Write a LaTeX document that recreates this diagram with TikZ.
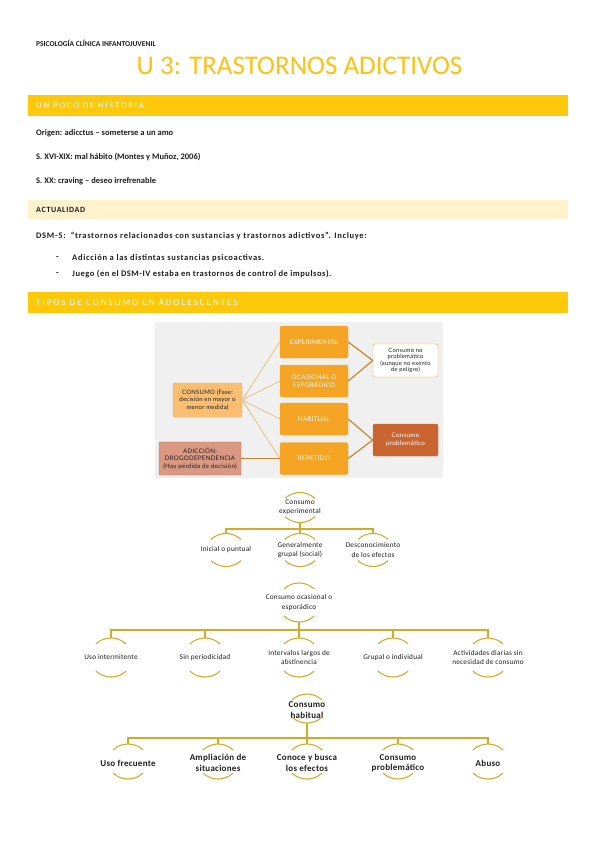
\documentclass[tikz,border=0pt]{standalone}
\usepackage{fontspec}
\setmainfont{Carlito}
\newfontfamily\barfont[LetterSpace=20]{Carlito}
\newfontfamily\actfont[LetterSpace=8]{Carlito}
\newfontfamily\imgfont[LetterSpace=4]{Lato}
\newfontfamily\treefont[LetterSpace=3]{Carlito}
\usetikzlibrary{calc}
\definecolor{barcol}{RGB}{255,200,10}
\definecolor{barlight}{RGB}{255,242,204}
\definecolor{ytitle}{RGB}{255,194,20}
\definecolor{imgbg}{RGB}{240,240,240}
\definecolor{orbox}{RGB}{245,165,35}
\definecolor{orlight}{RGB}{250,190,115}
\definecolor{orlightb}{RGB}{242,160,60}
\definecolor{salmon}{RGB}{218,152,130}
\definecolor{salmonb}{RGB}{190,110,85}
\definecolor{probc}{RGB}{202,100,48}
\definecolor{tanline}{RGB}{232,185,120}
\definecolor{brline}{RGB}{200,135,45}
\definecolor{gold}{RGB}{214,170,40}
\definecolor{txt}{RGB}{30,30,30}
\tikzset{
  body/.style={anchor=west,inner sep=0pt,font=\fontsize{8.5}{10}\selectfont\bfseries,text=txt},
  bartext/.style={anchor=west,inner sep=0pt,text=white},
  obox/.style={draw=orbox,fill=orbox,rounded corners=2pt,minimum width=68pt,minimum height=32pt,inner sep=0.5pt,align=center,text=white,font=\imgfont\fontsize{6.3}{7.6}\selectfont},
  fan/.style={draw=tanline,line width=0.7pt},
  brl/.style={draw=brline,line width=1.2pt},
  ring/.style={draw=gold,line width=1.1pt},
  tl/.style={inner sep=0pt,align=center,text=txt,font=\treefont\fontsize{7.3}{9.3}\selectfont},
  tb/.style={inner sep=0pt,align=center,text=txt,font=\treefont\fontsize{9}{10.5}\selectfont\bfseries},
}
\newcommand\rings[2]{%
  \draw[ring] ([shift={(-15,#2-5.9)}]#1.center) arc[start angle=133,end angle=47,radius=22pt];
  \draw[ring] ([shift={(-15,-#2+5.9)}]#1.center) arc[start angle=227,end angle=313,radius=22pt];}
\begin{document}
\begin{tikzpicture}[x=1pt,y=1pt]
\useasboundingbox[fill=white] (0,0) rectangle (599,-848);
% header
\node[anchor=west,inner sep=0pt,font=\fontsize{7.5}{9}\selectfont\bfseries,text=txt] (hdr) at (36,-43) {PSICOLOGÍA CLÍNICA INFANTOJUVENIL};
\node[inner sep=0pt,font=\fontsize{27}{30}\selectfont,text=ytitle] (title) at (299.5,-66) {U 3: TRASTORNOS ADICTIVOS};
% bar 1
\fill[barcol] (28,-95) rectangle (568,-116);
\node[bartext,font=\barfont\fontsize{8.8}{10}\selectfont] (b1) at (36,-105.5) {UN POCO DE HISTORIA…};
\node[body] (l1) at (36,-133) {Origen: adicctus – someterse a un amo};
\node[body] (l2) at (36,-157) {S. XVI-XIX: mal hábito (Montes y Muñoz, 2006)};
\node[body] (l3) at (36,-181) {S. XX: craving – deseo irrefrenable};
% bar 2
\fill[barlight] (28,-200) rectangle (568,-219);
\node[anchor=west,inner sep=0pt,text=txt,font=\actfont\fontsize{8}{9}\selectfont\bfseries] (b2) at (36,-209.5) {ACTUALIDAD};
\node[body,font=\fontsize{8.5}{10}\selectfont\bfseries\addfontfeature{LetterSpace=8}] (l4) at (36,-236) {DSM-5:\ \ “trastornos relacionados con sustancias y trastornos adictivos”. Incluye:};
\node[body] (d1) at (56,-258) {-};
\node[body,font=\fontsize{8.5}{10}\selectfont\bfseries\addfontfeature{LetterSpace=8}] (l5) at (72,-258) {Adicción a las distintas sustancias psicoactivas.};
\node[body] (d2) at (56,-274) {-};
\node[body,font=\fontsize{8.5}{10}\selectfont\bfseries\addfontfeature{LetterSpace=6}] (l6) at (72,-274) {Juego (en el DSM-IV estaba en trastornos de control de impulsos).};
% bar 3
\fill[barcol] (28,-292) rectangle (568,-313);
\node[bartext,font=\barfont\fontsize{9.3}{11}\selectfont] (b3) at (36,-302.5) {TIPOS DE CONSUMO EN ADOLESCENTES};
% image diagram
\fill[imgbg] (155,-322) rectangle (443,-478);
\node[obox] (exp) at (314,-342) {EXPERIMENTAL};
\node[obox] (oca) at (314,-381) {OCASIONAL O\\ESPORÁDICO};
\node[obox] (hab) at (314,-419) {HABITUAL};
\node[obox] (rep) at (314,-458.5) {REPETIDO};
\node[obox,draw=orlightb,fill=orlight,text=txt,minimum width=69pt,minimum height=34pt,font=\imgfont\fontsize{6}{7.4}\selectfont] (cons) at (207.5,-400) {CONSUMO (Fase:\\decisión en mayor o\\menor medida)};
\node[obox,draw=salmonb,fill=salmon,text=txt,minimum width=82pt,minimum height=33pt,rounded corners=1pt,font=\imgfont\fontsize{6.2}{7.4}\selectfont] (adic) at (200,-458.5) {ADICCIÓN:\\DROGODEPENDENCIA\\(Hay pérdida de decisión)};
\node[obox,draw=orlightb,fill=white,text=txt,minimum width=65pt,minimum height=33pt,font=\imgfont\fontsize{5.8}{6.6}\selectfont] (nop) at (405.5,-360.5) {Consumo no\\problemático\\(aunque no exento\\de peligro)};
\node[obox,draw=probc,fill=probc,minimum width=65pt,minimum height=32pt] (prob) at (405.5,-440) {Consumo\\problemático};
\draw[fan] (cons.east) -- (exp.west);
\draw[fan] (cons.east) -- (oca.west);
\draw[fan] (cons.east) -- (hab.west);
\draw[fan] (cons.east) -- (rep.west);
\draw[brl] (adic.east) -- (rep.west);
\draw[brl] (exp.east) -- (nop.west);
\draw[brl] (oca.east) -- (nop.west);
\draw[brl] (hab.east) -- (prob.west);
\draw[brl] (rep.east) -- (prob.west);
% tree 1
\node[tl] (t1r) at (300,-507.5) {Consumo\\experimental};
\node[tl] (t1a) at (226,-550) {Inicial o puntual};
\node[tl] (t1b) at (300,-550) {Generalmente\\grupal (social)};
\node[tl] (t1c) at (373,-550) {Desconocimiento\\de los efectos};
\rings{t1r}{15}\rings{t1a}{16.5}\rings{t1b}{16.5}\rings{t1c}{16.5}
\coordinate (t1bar) at (300,-529);
\draw[ring] ([yshift=-15pt]t1r.center) -- (t1bar);
\draw[ring] ([yshift=16.5pt]t1a.center) |- (t1bar) -| ([yshift=16.5pt]t1c.center);
\draw[ring] ([yshift=16.5pt]t1b.center) -- (t1bar);
% tree 2
\node[tl] (t2r) at (299,-602.5) {Consumo ocasional o\\esporádico};
\node[tl] (t2a) at (111,-657.5) {Uso intermitente};
\node[tl] (t2b) at (205,-657.5) {Sin periodicidad};
\node[tl] (t2c) at (299,-657.5) {Intervalos largos de\\abstinencia};
\node[tl] (t2d) at (393,-657.5) {Grupal o individual};
\node[tl] (t2e) at (488,-657.5) {Actividades diarias sin\\necesidad de consumo};
\rings{t2r}{19.5}\rings{t2a}{19.5}\rings{t2b}{19.5}\rings{t2c}{19.5}\rings{t2d}{19.5}\rings{t2e}{19.5}
\coordinate (t2bar) at (299,-630);
\draw[ring] ([yshift=-19.5pt]t2r.center) -- (t2bar);
\draw[ring] ([yshift=19.5pt]t2a.center) |- (t2bar) -| ([yshift=19.5pt]t2e.center);
\draw[ring] ([yshift=19.5pt]t2b.center) -- (t2b.center |- t2bar);
\draw[ring] ([yshift=19.5pt]t2c.center) -- (t2bar);
\draw[ring] ([yshift=19.5pt]t2d.center) -- (t2d.center |- t2bar);
% tree 3
\node[tb] (t3r) at (307,-710) {Consumo\\habitual};
\node[tb] (t3a) at (128,-763) {Uso frecuente};
\node[tb] (t3b) at (218,-763) {Ampliación de\\situaciones};
\node[tb] (t3c) at (307,-763) {Conoce y busca\\los efectos};
\node[tb] (t3d) at (398,-763) {Consumo\\problemático};
\node[tb] (t3e) at (488,-763) {Abuso};
\coordinate (t3rc) at (307,-708.5);
\coordinate (t3ac) at (128,-761.5);
\coordinate (t3bc) at (218,-761.5);
\coordinate (t3cc) at (307,-761.5);
\coordinate (t3dc) at (398,-761.5);
\coordinate (t3ec) at (488,-761.5);
\rings{t3rc}{14.5}\rings{t3ac}{17.5}\rings{t3bc}{17.5}\rings{t3cc}{17.5}\rings{t3dc}{17.5}\rings{t3ec}{17.5}
\coordinate (t3bar) at (307,-738);
\draw[ring] ([yshift=-14.5pt]t3rc) -- (t3bar);
\draw[ring] ([yshift=17.5pt]t3ac) |- (t3bar) -| ([yshift=17.5pt]t3ec);
\draw[ring] ([yshift=17.5pt]t3bc) -- (t3bc |- t3bar);
\draw[ring] ([yshift=17.5pt]t3cc) -- (t3bar);
\draw[ring] ([yshift=17.5pt]t3dc) -- (t3dc |- t3bar);
\end{tikzpicture}
\end{document}
